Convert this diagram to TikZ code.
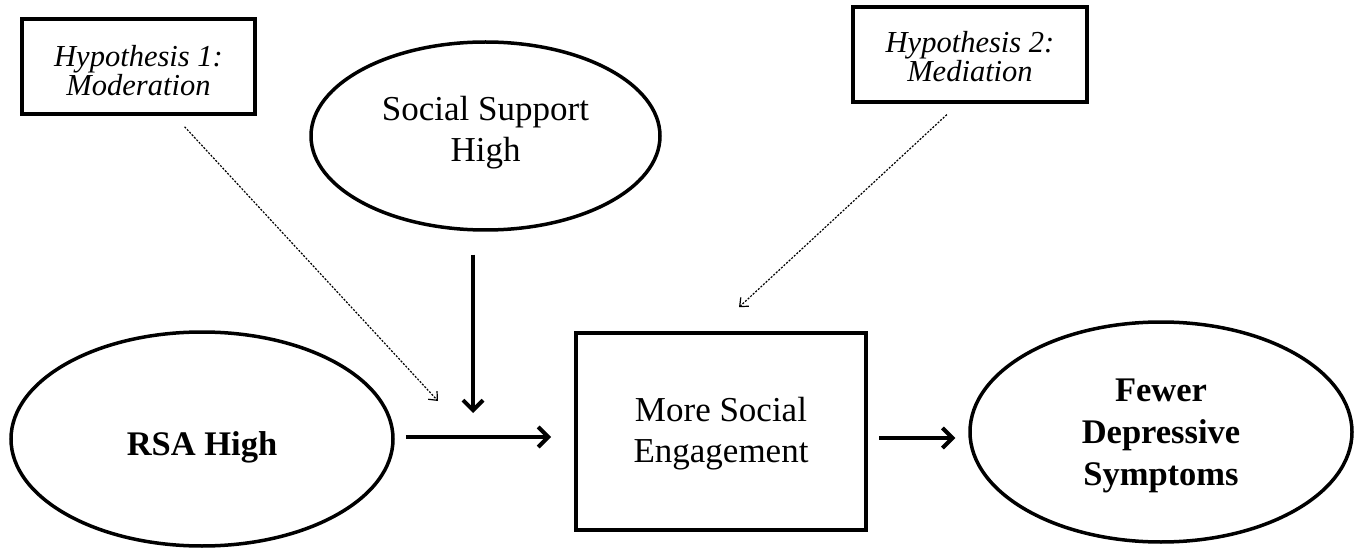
\documentclass[tikz,border=0pt]{standalone}
\usepackage{fontspec}
\setmainfont{Liberation Serif}
\usetikzlibrary{shapes.geometric,arrows.meta,calc}
\begin{document}
\begin{tikzpicture}[x=1pt,y=-1pt,
  hyp/.style={draw, line width=3.5pt, inner sep=0pt, align=center,
    font=\fontsize{30.5}{29}\selectfont\itshape},
  ell/.style={draw, ellipse, line width=3.5pt, inner sep=0pt, align=center},
  txt/.style={font=\fontsize{35}{41}\selectfont},
  btxt/.style={font=\fontsize{34.5}{42}\selectfont\bfseries},
  rect/.style={draw, line width=4pt, inner sep=0pt, align=center},
  thickarrow/.style={line width=4pt, -{Straight Barb[length=10pt,width=20pt]}},
  dotarrow/.style={line width=1.2pt, dash pattern=on 2pt off 1.5pt,
    -{Straight Barb[length=7pt,width=12pt,line width=1.2pt]}}
]
\useasboundingbox (0,0) rectangle (1358,548);

\node[hyp, minimum width=233pt, minimum height=95pt, text height=59pt, text depth=0pt] (h1) at (138.5,66.5) {Hypothesis 1:\\Moderation};
\node[hyp, minimum width=234pt, minimum height=95pt, text height=55pt, text depth=0pt] (h2) at (970,54.5) {Hypothesis 2:\\Mediation};
\node[ell, txt, minimum width=349pt, minimum height=188pt, text height=52pt, text depth=0pt] (ss) at (485.5,136) {Social Support\\High};
\node[ell, btxt, minimum width=382pt, minimum height=214pt, text height=32pt, text depth=0pt] (rsa) at (202,439) {RSA High};
\node[rect, txt, minimum width=290pt, minimum height=197pt, text height=61pt, text depth=0pt] (eng) at (721,431.5) {More Social\\Engagement};
\node[ell, btxt, minimum width=382pt, minimum height=220pt, text height=106pt, text depth=0pt] (few) at (1161,432) {Fewer\\Depressive\\Symptoms};

\coordinate (m1) at (438,401);
\coordinate (m2) at (473,413);
\coordinate (hy) at (0,437);
\coordinate (hy2) at (0,438);

\draw[dotarrow, shorten <=15pt] ($(h1.south west)!0.652!(h1.south east)$) -- (m1);
\draw[thickarrow, shorten <=23pt] (ss.south -| m2) -- (m2);
\draw[dotarrow, shorten <=16pt, shorten >=35pt] ($(h2.south west)!0.452!(h2.south east)$) -- ($(eng.north west)!0.474!(eng.north east)$);
\draw[thickarrow, shorten <=11pt, shorten >=23pt] (rsa.east |- hy) -- (eng.west |- hy);
\draw[thickarrow, shorten <=11pt, shorten >=13pt] (eng.east |- hy2) -- (few.west |- hy2);
\end{tikzpicture}
\end{document}
